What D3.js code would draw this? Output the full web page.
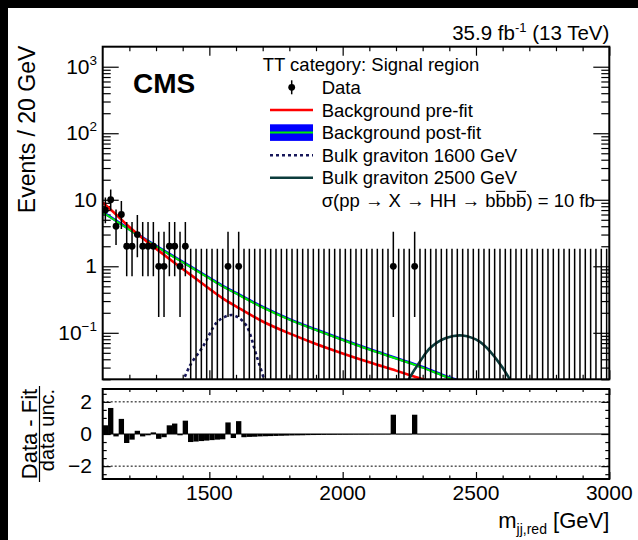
<!DOCTYPE html>
<html>
<head>
<meta charset="utf-8">
<script src="https://cdn.jsdelivr.net/npm/d3@7"></script>
<style>
body { margin: 0; background: #000; }
svg { display: block; }
text { font-family: "Liberation Sans", Arial, Helvetica, sans-serif; fill: #000; }
</style>
</head>
<body>
<svg id="chart" width="638" height="540"></svg>
<script>
// binning: 20 GeV bins from 1100 to 3000
const binLo = 1100;
const binWidth = 20;

// observed events per bin
const counts = [
  7, 10, 4, 6, 2, 2, 3, 2, 2, 2, 1, 1, 2, 2, 1, 2,
  0, 0, 0, 0, 0, 0, 0,
  1, 0, 1,
  0, 0, 0, 0, 0, 0, 0, 0, 0, 0, 0, 0, 0, 0, 0, 0, 0, 0, 0, 0, 0, 0, 0, 0, 0, 0, 0, 0,
  1, 0, 0, 0, 1,
  0, 0, 0, 0, 0, 0, 0, 0, 0, 0, 0, 0, 0, 0, 0, 0, 0, 0,
  0, 0, 0, 0, 0, 0, 0, 0, 0, 0, 0, 0, 0, 0, 0, 0, 0, 0
];

// (data - fit) / data unc. per bin
const pulls = [
  0.54, 1.62, -0.15, 0.94, -0.56, -0.35, 0.2, -0.15, -0.08, 0.1, -0.3, -0.2, 0.54, 0.65, -0.08, 0.83,
  -0.5, -0.47, -0.44, -0.41, -0.38, -0.35, -0.33,
  0.72, -0.25, 0.8,
  -0.2, -0.18, -0.17, -0.15, -0.14, -0.13, -0.12, -0.11, -0.1, -0.09, -0.085, -0.08, -0.07, -0.065,
  -0.06, -0.055, -0.05, -0.047, -0.044, -0.041, -0.038, -0.035, -0.033, -0.031, -0.029, -0.027, -0.025, -0.024,
  1.2, -0.022, -0.021, -0.02, 1.2,
  -0.018, -0.017, -0.016, -0.015, -0.014, -0.013, -0.012, -0.012, -0.011, -0.01, -0.01, -0.009,
  -0.009, -0.008, -0.008, -0.007, -0.007, -0.007, -0.006, -0.006, -0.006, -0.005, -0.005, -0.005,
  -0.005, -0.004, -0.004, -0.004, -0.004, -0.003, -0.003, -0.003, -0.003, -0.003, -0.002, -0.002
];

// Poisson (Garwood) interval for n = 0..10
const intervalLow  = [0, 0.173, 0.708, 1.367, 2.086, 2.840, 3.620, 4.419, 5.232, 6.057, 6.891];
const intervalHigh = [1.841, 3.300, 4.638, 5.918, 7.163, 8.382, 9.584, 10.77, 11.95, 13.11, 14.27];

// background curves (events / 20 GeV)
const bkgMass = [1100, 1150, 1200, 1250, 1300, 1350, 1400, 1450, 1500, 1550, 1600, 1700, 1800, 1900, 2000, 2100, 2200, 2300, 2400, 2500];
const preFit  = [9.1, 6.0, 3.9, 2.63, 1.84, 1.29, 0.91, 0.65, 0.46, 0.33, 0.25, 0.148, 0.098, 0.068, 0.049, 0.036, 0.027, 0.020, 0.015, 0.011];
const postFit = [6.46, 4.79, 3.55, 2.66, 2.0, 1.51, 1.15, 0.87, 0.66, 0.50, 0.39, 0.24, 0.158, 0.11, 0.078, 0.056, 0.041, 0.030, 0.021, 0.016];

// signals, sigma = 10 fb
const sig1600Mass = [1400, 1427, 1477, 1527, 1560, 1584, 1610, 1640, 1677, 1702, 1710];
const sig1600     = [0.018, 0.032, 0.063, 0.142, 0.175, 0.185, 0.168, 0.126, 0.045, 0.022, 0.017];
const sig2500Mass = [2240, 2250, 2290, 2330, 2390, 2450, 2515, 2575, 2625, 2635];
const sig2500     = [0.017, 0.0206, 0.037, 0.06, 0.084, 0.091, 0.073, 0.041, 0.0206, 0.017];

// axis ticks
const xMajor = [1500, 2000, 2500, 3000];
const xMinor = [1200, 1300, 1400, 1600, 1700, 1800, 1900, 2100, 2200, 2300, 2400, 2600, 2700, 2800, 2900];
const yTickValues = [1000, 100, 10, 1, 0.1];
const yTickBase = ["10", "10", "10", "1", "10"];
const yTickExp = ["3", "2", "", "", "\u22121"];
const rTickValues = [2, 0, -2];
const rTickLabels = ["2", "0", "\u22122"];

const legendLabels = ["Data", "Background pre-fit", "Background post-fit", "Bulk graviton 1600 GeV", "Bulk graviton 2500 GeV"];

const svg = d3.select("#chart");
svg.append("rect").attr("width", 638).attr("height", 540).attr("fill", "#000");
svg.append("rect").attr("x", 8).attr("y", 8).attr("width", 630).attr("height", 532).attr("fill", "#fff");

const L = 102.7, R = 609.3, T = 46.7, B = 379.3;
const RT = 389, RB = 479;

const x = d3.scaleLinear([1100, 3000], [L, R]);
const y = d3.scaleLog([0.02, 2000], [B, T]);
const ry = d3.scaleLinear([-2.8, 2.8], [RB, RT]);

svg.append("clipPath").attr("id", "clipMain")
  .append("rect").attr("x", L).attr("y", T).attr("width", R - L).attr("height", B - T);

const yMinor = [];
for (let d = -2; d <= 3; d++) {
  for (let k = 2; k <= 9; k++) {
    const v = k * Math.pow(10, d);
    if (v >= 0.02 && v < 2000) yMinor.push(v);
  }
}
const rMinor = d3.range(-2.5, 2.6, 0.5).filter(v => Math.abs(v % 2) > 0.01);

function drawTicks(axisFn, scale, vals, len, tx, ty) {
  const g = svg.append("g").attr("transform", `translate(${tx},${ty})`)
    .call(axisFn(scale).tickValues(vals).tickSize(len).tickFormat(""));
  g.select(".domain").remove();
  g.selectAll("line").attr("stroke", "#000").attr("stroke-width", 1.2);
}

// main panel ticks
drawTicks(d3.axisTop, x, xMajor, 9, 0, B);
drawTicks(d3.axisTop, x, xMinor, 4.5, 0, B);
drawTicks(d3.axisBottom, x, xMajor, 9, 0, T);
drawTicks(d3.axisBottom, x, xMinor, 4.5, 0, T);
drawTicks(d3.axisRight, y, yTickValues, 16, L, 0);
drawTicks(d3.axisRight, y, yMinor, 8, L, 0);
drawTicks(d3.axisLeft, y, yTickValues, 16, R, 0);
drawTicks(d3.axisLeft, y, yMinor, 8, R, 0);

// ratio panel ticks
drawTicks(d3.axisTop, x, xMajor, 7, 0, RB);
drawTicks(d3.axisTop, x, xMinor, 3.5, 0, RB);
drawTicks(d3.axisBottom, x, xMajor, 6, 0, RT);
drawTicks(d3.axisBottom, x, xMinor, 3, 0, RT);
drawTicks(d3.axisRight, ry, rTickValues, 8, L, 0);
drawTicks(d3.axisRight, ry, rMinor, 4, L, 0);
drawTicks(d3.axisLeft, ry, rTickValues, 8, R, 0);
drawTicks(d3.axisLeft, ry, rMinor, 4, R, 0);

// curves
const plot = svg.append("g").attr("clip-path", "url(#clipMain)");
const curveLine = (mass, vals) => d3.line()
  .x((d, i) => x(mass[i]))
  .y(d => y(d))
  .curve(d3.curveCatmullRom.alpha(0.5))(vals);

plot.append("path").attr("d", curveLine(bkgMass, postFit))
  .attr("fill", "none").attr("stroke", "#0000ff").attr("stroke-width", 2.8)
  .attr("transform", "translate(0,-0.4)");
plot.append("path").attr("d", curveLine(bkgMass, postFit))
  .attr("fill", "none").attr("stroke", "#00f000").attr("stroke-width", 2);
plot.append("path").attr("d", curveLine(bkgMass, preFit))
  .attr("fill", "none").attr("stroke", "#ff0000").attr("stroke-width", 2.6);
plot.append("path").attr("d", curveLine(sig1600Mass, sig1600))
  .attr("fill", "none").attr("stroke", "#17175a").attr("stroke-width", 2.6).attr("stroke-dasharray", "3,3");
plot.append("path").attr("d", curveLine(sig2500Mass, sig2500))
  .attr("fill", "none").attr("stroke", "#0c3c3c").attr("stroke-width", 2.6);

// data
const bins = counts.map((n, i) => ({ c: binLo + binWidth * (i + 0.5), n: n }));
plot.selectAll(".err").data(bins).join("line")
  .attr("x1", d => x(d.c)).attr("x2", d => x(d.c))
  .attr("y1", d => d.n > 0 ? y(intervalLow[d.n]) : B + 2)
  .attr("y2", d => y(intervalHigh[d.n]))
  .attr("stroke", "#000").attr("stroke-width", 1.5);
plot.selectAll(".pt").data(bins.filter(d => d.n > 0)).join("circle")
  .attr("cx", d => x(d.c)).attr("cy", d => y(d.n)).attr("r", 3.4).attr("fill", "#000");

// ratio panel
[2, -2].forEach(v => {
  svg.append("line").attr("x1", L).attr("x2", R).attr("y1", ry(v)).attr("y2", ry(v))
    .attr("stroke", "#000").attr("stroke-width", 1).attr("stroke-dasharray", "2,2");
});
svg.append("line").attr("x1", L).attr("x2", R).attr("y1", ry(0)).attr("y2", ry(0))
  .attr("stroke", "#000").attr("stroke-width", 1);
svg.selectAll(".pull").data(pulls).join("rect")
  .attr("x", (d, i) => x(binLo + binWidth * i))
  .attr("width", (d, i) => x(binLo + binWidth * (i + 1)) - x(binLo + binWidth * i))
  .attr("y", d => ry(Math.max(0, d)))
  .attr("height", d => Math.abs(ry(d) - ry(0)))
  .attr("fill", "#000");

// frames
svg.append("rect").attr("x", L).attr("y", T).attr("width", R - L).attr("height", B - T)
  .attr("fill", "none").attr("stroke", "#000").attr("stroke-width", 2);
svg.append("rect").attr("x", L).attr("y", RT).attr("width", R - L).attr("height", RB - RT)
  .attr("fill", "none").attr("stroke", "#000").attr("stroke-width", 2);

// tick labels
svg.selectAll(".xl").data(xMajor).join("text")
  .attr("x", d => x(d)).attr("y", 500).attr("text-anchor", "middle")
  .attr("font-size", 21).text(d => d);

const yl = svg.selectAll(".yl").data(yTickValues).join("text")
  .attr("x", 97).attr("y", d => y(d) + 7).attr("text-anchor", "end").attr("font-size", 21);
yl.append("tspan").text((d, i) => yTickBase[i]);
yl.append("tspan").attr("font-size", 13.5).attr("dy", -9).text((d, i) => yTickExp[i]);

svg.selectAll(".rl").data(rTickValues).join("text")
  .attr("x", 92).attr("y", d => ry(d) + 7).attr("text-anchor", "end")
  .attr("font-size", 21).text((d, i) => rTickLabels[i]);

// axis titles
const xt = svg.append("text").attr("x", R).attr("y", 528).attr("text-anchor", "end").attr("font-size", 22);
xt.append("tspan").text("m");
xt.append("tspan").attr("font-size", 14).attr("dy", 6).text("jj,red");
xt.append("tspan").attr("dy", -6).text(" [GeV]");

svg.append("text").attr("transform", `translate(35,${T - 1}) rotate(-90)`)
  .attr("text-anchor", "end").attr("font-size", 23).text("Events / 20 GeV");

svg.append("text").attr("transform", "translate(37,434) rotate(-90)")
  .attr("text-anchor", "middle").attr("font-size", 22).text("Data - Fit");
svg.append("line").attr("x1", 39.5).attr("x2", 39.5).attr("y1", 386).attr("y2", 482)
  .attr("stroke", "#000").attr("stroke-width", 1.2);
svg.append("text").attr("transform", "translate(54,430) rotate(-90)")
  .attr("text-anchor", "middle").attr("font-size", 20).text("data unc.");

// header
svg.append("text").attr("x", 133).attr("y", 93).attr("font-size", 28).attr("font-weight", "bold").text("CMS");
const lumi = svg.append("text").attr("x", R).attr("y", 40).attr("text-anchor", "end").attr("font-size", 20.5);
lumi.append("tspan").text("35.9 fb");
lumi.append("tspan").attr("font-size", 13).attr("dy", -8).text("-1");
lumi.append("tspan").attr("dy", 8).text(" (13 TeV)");

// legend
const lx0 = 270, lx1 = 313, ltx = 321.7;
const rowY = [87.3, 110, 132.6, 155.2, 177.8, 200.4];
svg.append("text").attr("x", 262.7).attr("y", 70.7).attr("font-size", 18.5).text("TT category: Signal region");
svg.selectAll(".lt").data(legendLabels).join("text")
  .attr("x", ltx).attr("y", (d, i) => rowY[i] + 6.5).attr("font-size", 18.5).text(d => d);

svg.append("line").attr("x1", 291.7).attr("x2", 291.7).attr("y1", rowY[0] - 7).attr("y2", rowY[0] + 7)
  .attr("stroke", "#000").attr("stroke-width", 1.5);
svg.append("circle").attr("cx", 291.7).attr("cy", rowY[0]).attr("r", 3.4).attr("fill", "#000");
svg.append("line").attr("x1", lx0).attr("x2", lx1).attr("y1", rowY[1]).attr("y2", rowY[1])
  .attr("stroke", "#ff0000").attr("stroke-width", 2.6);
svg.append("rect").attr("x", lx0).attr("y", rowY[2] - 8.3).attr("width", lx1 - lx0).attr("height", 16.6)
  .attr("fill", "#0000ff");
svg.append("line").attr("x1", lx0).attr("x2", lx1).attr("y1", rowY[2]).attr("y2", rowY[2])
  .attr("stroke", "#00f000").attr("stroke-width", 2);
svg.append("line").attr("x1", lx0).attr("x2", lx1).attr("y1", rowY[3]).attr("y2", rowY[3])
  .attr("stroke", "#17175a").attr("stroke-width", 2.6).attr("stroke-dasharray", "3,3");
svg.append("line").attr("x1", lx0).attr("x2", lx1).attr("y1", rowY[4]).attr("y2", rowY[4])
  .attr("stroke", "#0c3c3c").attr("stroke-width", 2.6);

const sigmaText = "\u03c3(pp \u2192 X \u2192 HH \u2192 bbbb) = 10 fb";
const st = svg.append("text").attr("x", ltx).attr("y", rowY[5] + 6.5).attr("font-size", 18.5).text(sigmaText);
const bIdx = [];
for (let i = 0; i < sigmaText.length; i++) if (sigmaText[i] === "b") bIdx.push(i);
[bIdx[1], bIdx[3]].forEach(i => {
  const ext = st.node().getExtentOfChar(i);
  svg.append("line").attr("x1", ext.x + 0.5).attr("x2", ext.x + ext.width - 0.5)
    .attr("y1", rowY[5] - 9).attr("y2", rowY[5] - 9)
    .attr("stroke", "#000").attr("stroke-width", 1.2);
});
</script>
</body>
</html>
